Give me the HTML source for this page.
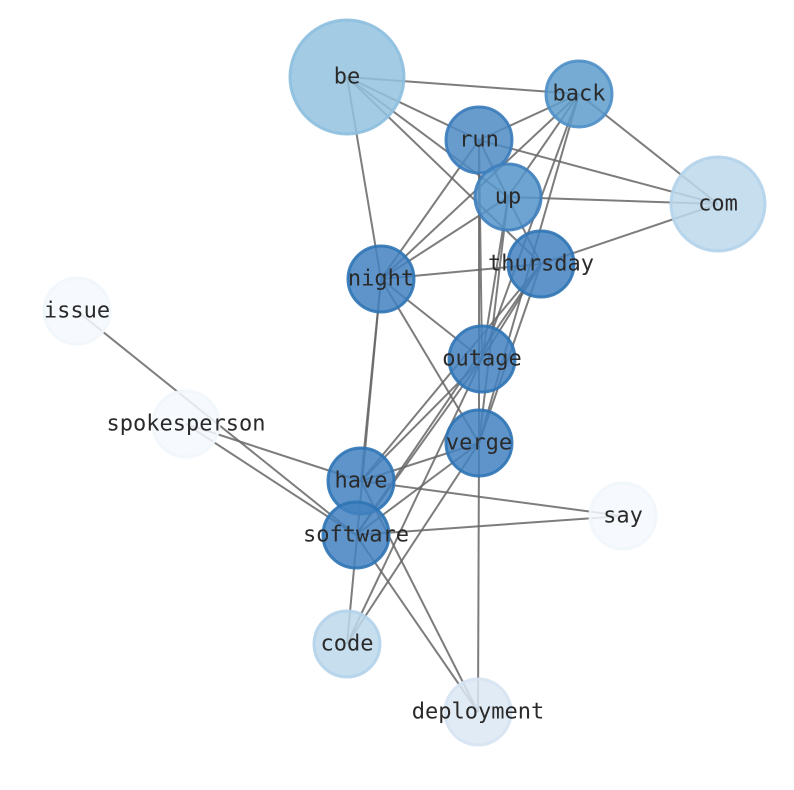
<!DOCTYPE html>
<html><head><meta charset="utf-8"><style>html,body{margin:0;background:#fff}svg{display:block}</style></head><body>
<svg width="794" height="790" viewBox="0 0 794 790" xmlns="http://www.w3.org/2000/svg">
<g stroke="#666" stroke-width="2" stroke-opacity="0.85">
<line x1="347" y1="77" x2="579" y2="94"/>
<line x1="347" y1="77" x2="479" y2="140"/>
<line x1="347" y1="77" x2="508" y2="197"/>
<line x1="347" y1="77" x2="541" y2="264"/>
<line x1="347" y1="77" x2="381" y2="279"/>
<line x1="579" y1="94" x2="479" y2="140"/>
<line x1="579" y1="94" x2="381" y2="279"/>
<line x1="579" y1="94" x2="482" y2="359"/>
<line x1="579" y1="94" x2="479" y2="443"/>
<line x1="579" y1="94" x2="718" y2="204"/>
<line x1="579" y1="94" x2="508" y2="197"/>
<line x1="479" y1="140" x2="718" y2="204"/>
<line x1="479" y1="140" x2="381" y2="279"/>
<line x1="479" y1="140" x2="482" y2="359"/>
<line x1="479" y1="140" x2="541" y2="264"/>
<line x1="479" y1="140" x2="479" y2="443"/>
<line x1="508" y1="197" x2="718" y2="204"/>
<line x1="508" y1="197" x2="381" y2="279"/>
<line x1="508" y1="197" x2="482" y2="359"/>
<line x1="508" y1="197" x2="479" y2="443"/>
<line x1="718" y1="204" x2="541" y2="264"/>
<line x1="541" y1="264" x2="381" y2="279"/>
<line x1="541" y1="264" x2="482" y2="359"/>
<line x1="541" y1="264" x2="361" y2="481"/>
<line x1="541" y1="264" x2="356" y2="535"/>
<line x1="541" y1="264" x2="479" y2="443"/>
<line x1="381" y1="279" x2="482" y2="359"/>
<line x1="381" y1="279" x2="479" y2="443"/>
<line x1="381" y1="279" x2="361" y2="481"/>
<line x1="381" y1="279" x2="347" y2="644"/>
<line x1="482" y1="359" x2="361" y2="481"/>
<line x1="482" y1="359" x2="356" y2="535"/>
<line x1="482" y1="359" x2="347" y2="644"/>
<line x1="479" y1="443" x2="361" y2="481"/>
<line x1="479" y1="443" x2="356" y2="535"/>
<line x1="479" y1="443" x2="347" y2="644"/>
<line x1="479" y1="443" x2="478" y2="712"/>
<line x1="361" y1="481" x2="186" y2="424"/>
<line x1="361" y1="481" x2="623" y2="516"/>
<line x1="361" y1="481" x2="478" y2="712"/>
<line x1="356" y1="535" x2="77" y2="311"/>
<line x1="356" y1="535" x2="186" y2="424"/>
<line x1="356" y1="535" x2="623" y2="516"/>
<line x1="356" y1="535" x2="478" y2="712"/>
</g>
<g stroke-width="3" fill-opacity="0.85" stroke-opacity="0.9">
<circle cx="347" cy="77" r="57" fill="#94c2df" stroke="#8dbfdf"/>
<circle cx="579" cy="94" r="33" fill="#5e9ccd" stroke="#4f8fc6"/>
<circle cx="479" cy="140" r="33" fill="#4d8bc3" stroke="#3a7bbb"/>
<circle cx="508" cy="197" r="33" fill="#5594c9" stroke="#3f80bd"/>
<circle cx="718" cy="204" r="47" fill="#bcd8eb" stroke="#b3d3ea"/>
<circle cx="541" cy="264" r="33" fill="#4281bf" stroke="#2f74b5"/>
<circle cx="381" cy="279" r="33" fill="#4281bf" stroke="#2f74b5"/>
<circle cx="77" cy="311" r="33" fill="#f4f8fd" stroke="#f1f6fc"/>
<circle cx="482" cy="359" r="33" fill="#4281bf" stroke="#2f74b5"/>
<circle cx="186" cy="424" r="33" fill="#f4f8fd" stroke="#f1f6fc"/>
<circle cx="479" cy="443" r="33" fill="#4281bf" stroke="#2f74b5"/>
<circle cx="361" cy="481" r="33" fill="#4281bf" stroke="#2f74b5"/>
<circle cx="623" cy="516" r="33" fill="#f4f8fd" stroke="#f1f6fc"/>
<circle cx="356" cy="535" r="33" fill="#4281bf" stroke="#2f74b5"/>
<circle cx="347" cy="644" r="33" fill="#bcd8eb" stroke="#b3d3ea"/>
<circle cx="478" cy="712" r="33" fill="#dbe7f4" stroke="#d6e3f2"/>
</g>
<g font-family="DejaVu Sans Mono, Liberation Mono, monospace" font-size="22" fill="#2a2a2a" text-anchor="middle" dominant-baseline="central">
<text x="347" y="77">be</text>
<text x="579" y="94">back</text>
<text x="479" y="140">run</text>
<text x="508" y="197">up</text>
<text x="718" y="204">com</text>
<text x="541" y="264">thursday</text>
<text x="381" y="279">night</text>
<text x="77" y="311">issue</text>
<text x="482" y="359">outage</text>
<text x="186" y="424">spokesperson</text>
<text x="479" y="443">verge</text>
<text x="361" y="481">have</text>
<text x="623" y="516">say</text>
<text x="356" y="535">software</text>
<text x="347" y="644">code</text>
<text x="478" y="712">deployment</text>
</g>
</svg>
</body></html>
